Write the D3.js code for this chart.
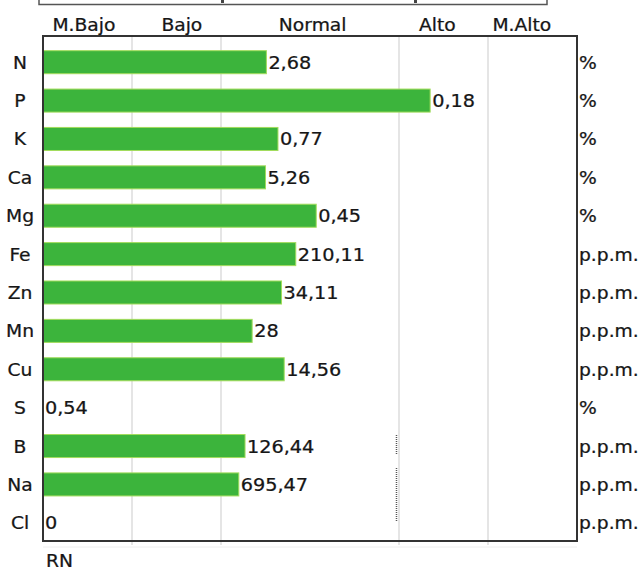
<!DOCTYPE html>
<html>
<head>
<meta charset="utf-8">
<script src="https://cdn.jsdelivr.net/npm/d3@7"></script>
<style>
  html, body { margin: 0; padding: 0; background: #fff; }
  svg { display: block; }
  text { font-family: "DejaVu Sans", Verdana, sans-serif; fill: #161616; stroke: #161616; stroke-width: 0.25px; }
</style>
</head>
<body>
<svg id="chart" width="643" height="571"></svg>
<script>
// ---- data ----
const elements = ["N", "P", "K", "Ca", "Mg", "Fe", "Zn", "Mn", "Cu", "S", "B", "Na", "Cl"];
const valueLabels = ["2,68", "0,18", "0,77", "5,26", "0,45", "210,11", "34,11", "28", "14,56", "0,54", "126,44", "695,47", "0"];
const positions = [2.51, 4.35, 2.64, 2.50, 3.07, 2.84, 2.68, 2.35, 2.71, 0, 2.27, 2.20, 0];
const units = ["%", "%", "%", "%", "%", "p.p.m.", "p.p.m.", "p.p.m.", "p.p.m.", "%", "p.p.m.", "p.p.m.", "p.p.m."];
const bandNames = ["M.Bajo", "Bajo", "Normal", "Alto", "M.Alto"];
const bandLabelAt = [0.46, 1.56, 3.03, 4.43, 5.38];
const bandEdges = [0, 1, 2, 4, 5, 6];
const footer = "RN";

// ---- layout ----
const svg = d3.select("#chart");
const frame = { left: 43, right: 577, top: 36, bottom: 541 };
const SX = 1.1; // horizontal stretch of the scanned lettering

const x = d3.scaleLinear().domain([0, 6]).range([frame.left, frame.right]);
const y = d3.scaleBand().domain(elements).range([43, 542]).paddingInner(0.4).paddingOuter(0.2);

function place(sel, fx, fy) {
  return sel.attr("transform", (d, i) => `translate(${fx(d, i)},${fy(d, i)}) scale(${SX},1)`);
}

// cropped table remnant at the top
svg.append("path")
  .attr("d", `M39,0V4.5H547V0`)
  .attr("fill", "none").attr("stroke", "#555").attr("stroke-width", 1.5);
svg.append("rect").attr("x", 221).attr("y", 0).attr("width", 3).attr("height", 3).attr("fill", "#444");
svg.append("rect").attr("x", 414).attr("y", 0).attr("width", 3).attr("height", 3).attr("fill", "#444");

// gridlines at band boundaries
svg.append("g").selectAll("line")
  .data(bandEdges.slice(1, -1))
  .join("line")
  .attr("x1", d => x(d)).attr("x2", d => x(d))
  .attr("y1", frame.top).attr("y2", frame.bottom + 4)
  .attr("stroke", "#dcdcdc").attr("stroke-width", 1.5);

// faint line below the frame
svg.append("line")
  .attr("x1", frame.left).attr("x2", frame.right)
  .attr("y1", frame.bottom + 6).attr("y2", frame.bottom + 6)
  .attr("stroke", "#eeeeee").attr("stroke-width", 1);

// scan artifact (dotted segment)
svg.append("g").selectAll("line")
  .data([[435, 455], [468, 522]])
  .join("line")
  .attr("x1", 396.5).attr("x2", 396.5)
  .attr("y1", d => d[0]).attr("y2", d => d[1])
  .attr("stroke", "#555").attr("stroke-width", 1.5).attr("stroke-dasharray", "1,1");

// band header labels
place(svg.append("g").selectAll("text")
  .data(bandNames)
  .join("text")
  .attr("text-anchor", "middle")
  .attr("font-size", 17)
  .text(d => d), (d, i) => x(bandLabelAt[i]), () => 31);

// bars
svg.append("g").selectAll("rect")
  .data(elements)
  .join("rect")
  .attr("x", x(0))
  .attr("y", d => y(d))
  .attr("width", (d, i) => x(positions[i]) - x(0))
  .attr("height", y.bandwidth())
  .attr("fill", "#3cb43c")
  .attr("stroke", (d, i) => positions[i] > 0 ? "#a3dc5c" : "none")
  .attr("stroke-width", 1);

// value labels
place(svg.append("g").selectAll("text")
  .data(elements)
  .join("text")
  .attr("font-size", 17.5)
  .text((d, i) => valueLabels[i]),
  (d, i) => x(positions[i]) + 2, d => y(d) + y.bandwidth() / 2 + 6.5);

// element labels
place(svg.append("g").selectAll("text")
  .data(elements)
  .join("text")
  .attr("text-anchor", "middle")
  .attr("font-size", 17)
  .text(d => d),
  () => 20, d => y(d) + y.bandwidth() / 2 + 6.5);

// unit labels
place(svg.append("g").selectAll("text")
  .data(elements)
  .join("text")
  .attr("font-size", 17)
  .text((d, i) => units[i]),
  () => frame.right + 2, d => y(d) + y.bandwidth() / 2 + 6.5);

// frame
svg.append("rect")
  .attr("x", frame.left).attr("y", frame.top)
  .attr("width", frame.right - frame.left).attr("height", frame.bottom - frame.top)
  .attr("fill", "none").attr("stroke", "#333").attr("stroke-width", 2);

// footer
place(svg.append("text")
  .datum(footer)
  .attr("font-size", 17)
  .text(d => d), () => 46, () => 567);
</script>
</body>
</html>
